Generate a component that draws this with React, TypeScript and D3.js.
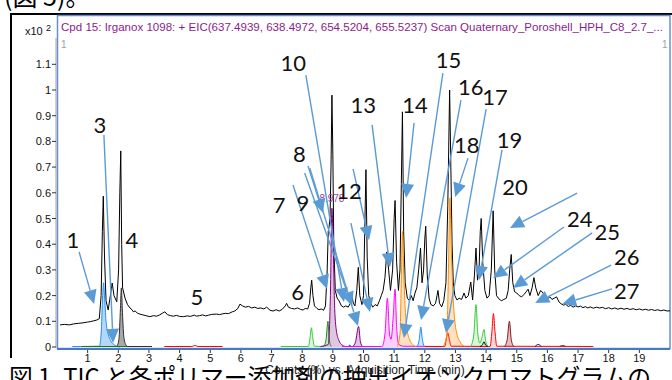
import React from "react";
import * as d3 from "d3";

// ---- data ----
const xTicks = [1, 2, 3, 4, 5, 6, 7, 8, 9, 10, 11, 12, 13, 14, 15, 16, 17, 18, 19];
const yTicks = [0, 0.1, 0.2, 0.3, 0.4, 0.5, 0.6, 0.7, 0.8, 0.9, 1, 1.1];

// TIC (black) : [time (min), counts (x10^2)]
const ticPoints: [number, number][] = [
  [0.1, 0.086], [0.25, 0.088], [0.4, 0.086], [0.55, 0.09], [0.7, 0.092], [0.85, 0.094],
  [1.0, 0.097], [1.1, 0.099], [1.2, 0.102], [1.3, 0.105], [1.38, 0.11], [1.44, 0.2],
  [1.48, 0.45], [1.51, 0.587], [1.55, 0.35], [1.6, 0.18], [1.67, 0.144], [1.74, 0.2],
  [1.8, 0.249], [1.86, 0.2], [1.95, 0.176], [2.01, 0.3], [2.05, 0.6], [2.08, 0.763],
  [2.11, 0.4], [2.14, 0.23], [2.18, 0.21], [2.22, 0.19], [2.3, 0.165], [2.38, 0.152],
  [2.45, 0.145], [2.49, 0.137], [2.55, 0.14], [2.62, 0.132], [2.7, 0.128], [2.8, 0.125],
  [2.9, 0.122], [3.03, 0.118], [3.15, 0.122], [3.25, 0.12], [3.35, 0.125], [3.45, 0.132],
  [3.52, 0.137], [3.6, 0.126], [3.7, 0.122], [3.8, 0.12], [3.9, 0.123], [4.0, 0.119],
  [4.12, 0.118], [4.25, 0.121], [4.35, 0.119], [4.48, 0.124], [4.55, 0.12], [4.65, 0.122],
  [4.75, 0.125], [4.85, 0.121], [4.95, 0.124], [5.05, 0.127], [5.21, 0.128], [5.3, 0.126],
  [5.4, 0.129], [5.5, 0.131], [5.6, 0.13], [5.72, 0.137], [5.8, 0.14], [5.9, 0.15],
  [5.97, 0.167], [6.05, 0.16], [6.15, 0.155], [6.25, 0.158], [6.35, 0.152], [6.45, 0.155],
  [6.55, 0.15], [6.65, 0.152], [6.75, 0.148], [6.84, 0.155], [6.95, 0.143], [7.05, 0.14],
  [7.15, 0.145], [7.25, 0.14], [7.35, 0.147], [7.45, 0.16], [7.49, 0.17], [7.55, 0.155],
  [7.65, 0.15], [7.75, 0.148], [7.85, 0.152], [7.95, 0.146], [8.03, 0.144], [8.1, 0.15],
  [8.18, 0.148], [8.24, 0.17], [8.28, 0.23], [8.31, 0.26], [8.35, 0.2], [8.4, 0.16],
  [8.48, 0.15], [8.55, 0.145], [8.62, 0.148], [8.7, 0.143], [8.76, 0.16], [8.81, 0.28],
  [8.85, 0.45], [8.88, 0.47], [8.91, 0.51], [8.94, 0.7], [8.97, 0.98], [9.0, 0.75],
  [9.03, 0.4], [9.08, 0.22], [9.14, 0.19], [9.2, 0.18], [9.28, 0.16], [9.35, 0.155],
  [9.42, 0.16], [9.5, 0.155], [9.57, 0.17], [9.62, 0.2], [9.67, 0.17], [9.72, 0.16],
  [9.78, 0.22], [9.83, 0.31], [9.88, 0.2], [9.95, 0.165], [10.0, 0.2], [10.04, 0.45],
  [10.08, 0.69], [10.12, 0.35], [10.17, 0.2], [10.24, 0.17], [10.3, 0.155], [10.38, 0.165],
  [10.45, 0.16], [10.52, 0.18], [10.58, 0.2], [10.64, 0.22], [10.7, 0.27], [10.76, 0.37],
  [10.82, 0.3], [10.88, 0.22], [10.95, 0.3], [11.0, 0.5], [11.03, 0.57], [11.08, 0.33],
  [11.14, 0.22], [11.19, 0.3], [11.23, 0.6], [11.27, 0.915], [11.31, 0.45], [11.36, 0.25],
  [11.43, 0.19], [11.5, 0.18], [11.56, 0.2], [11.62, 0.18], [11.68, 0.21], [11.74, 0.23],
  [11.8, 0.3], [11.86, 0.385], [11.91, 0.25], [11.96, 0.3], [12.0, 0.42], [12.03, 0.47],
  [12.08, 0.28], [12.14, 0.19], [12.2, 0.165], [12.28, 0.16], [12.35, 0.17], [12.4, 0.2],
  [12.43, 0.22], [12.48, 0.17], [12.55, 0.156], [12.62, 0.18], [12.69, 0.25], [12.75, 0.55],
  [12.81, 1.0], [12.85, 0.7], [12.89, 0.4], [12.93, 0.25], [12.98, 0.2], [13.05, 0.183],
  [13.12, 0.19], [13.2, 0.185], [13.28, 0.21], [13.34, 0.19], [13.42, 0.2], [13.5, 0.253],
  [13.56, 0.183], [13.62, 0.28], [13.67, 0.385], [13.72, 0.26], [13.77, 0.3], [13.81, 0.45],
  [13.84, 0.5], [13.89, 0.33], [13.96, 0.22], [14.03, 0.19], [14.1, 0.2], [14.17, 0.3],
  [14.23, 0.53], [14.28, 0.3], [14.34, 0.2], [14.42, 0.187], [14.5, 0.18], [14.58, 0.185],
  [14.66, 0.19], [14.72, 0.22], [14.77, 0.3], [14.82, 0.36], [14.87, 0.25], [14.93, 0.215],
  [15.0, 0.21], [15.08, 0.2], [15.16, 0.195], [15.24, 0.205], [15.31, 0.215], [15.37, 0.225],
  [15.43, 0.2], [15.5, 0.23], [15.56, 0.27], [15.62, 0.23], [15.7, 0.2], [15.78, 0.22],
  [15.86, 0.21], [15.93, 0.195], [16.0, 0.187], [16.08, 0.195], [16.15, 0.185], [16.22, 0.19],
  [16.3, 0.195], [16.38, 0.175], [16.45, 0.168], [16.52, 0.163], [16.6, 0.166], [16.68, 0.158],
  [16.76, 0.162], [16.84, 0.155], [16.92, 0.16], [17.0, 0.156], [17.08, 0.159], [17.16, 0.153],
  [17.24, 0.157], [17.32, 0.152], [17.4, 0.156], [17.5, 0.151], [17.6, 0.155], [17.7, 0.152],
  [17.8, 0.154], [17.9, 0.149], [18.0, 0.153], [18.1, 0.148], [18.2, 0.152], [18.3, 0.147],
  [18.4, 0.151], [18.5, 0.147], [18.6, 0.15], [18.7, 0.146], [18.8, 0.149], [18.9, 0.145],
  [19.0, 0.148], [19.1, 0.144], [19.2, 0.147], [19.3, 0.143], [19.4, 0.146], [19.5, 0.142],
  [19.6, 0.145], [19.7, 0.141], [19.8, 0.144], [19.9, 0.14], [20.0, 0.141],
];

// extracted ion chromatograms
const eicBlueLow: [number, number][] = [
  [0.5, 0.002], [0.8, 0.002], [1.38, 0.003], [1.44, 0.05], [1.49, 0.2], [1.52, 0.25],
  [1.55, 0.2], [1.6, 0.1], [1.67, 0.05], [1.75, 0.025], [1.85, 0.01], [1.95, 0.003], [2.05, 0.0],
];
const eicGreenEarly: [number, number][] = [[0.8, 0.002], [2.8, 0.002]];
const eicGray: [number, number][] = [
  [1.95, 0.002], [2.02, 0.03], [2.07, 0.15], [2.1, 0.23], [2.13, 0.15], [2.18, 0.04],
  [2.24, 0.01], [2.3, 0.002], [3.1, 0.002],
];
const eicRedEarly: [number, number][] = [[3.5, 0.002], [4.4, 0.002], [4.5, 0.006], [4.6, 0.002], [5.4, 0.002]];
const eicGreen8: [number, number][] = [
  [7.3, 0.002], [8.2, 0.002], [8.26, 0.04], [8.3, 0.075], [8.34, 0.04], [8.4, 0.003], [8.7, 0.002],
];
const eicDarkGreen: [number, number][] = [[8.7, 0.002], [8.78, 0.03], [8.84, 0.1], [8.88, 0.03], [8.95, 0.002]];
const eicPurple: [number, number][] = [
  [8.6, 0.002], [8.85, 0.01], [8.92, 0.2], [8.97, 0.54], [9.01, 0.4], [9.06, 0.15],
  [9.12, 0.06], [9.2, 0.025], [9.3, 0.008], [9.4, 0.002],
];
const eicNavy9: [number, number][] = [[9.4, 0.002], [9.5, 0.002], [9.55, 0.007], [9.6, 0.002], [9.7, 0.002]];
const eicPurple2: [number, number][] = [[9.65, 0.002], [9.74, 0.02], [9.84, 0.08], [9.9, 0.02], [9.97, 0.002]];
const eicMagenta: [number, number][] = [
  [9.3, 0.002], [10.6, 0.002], [10.7, 0.05], [10.78, 0.19], [10.85, 0.05], [10.9, 0.03],
  [10.97, 0.12], [11.03, 0.225], [11.08, 0.08], [11.15, 0.01], [11.3, 0.003], [12.5, 0.002],
];
const eicOrange1: [number, number][] = [
  [11.1, 0.002], [11.19, 0.05], [11.24, 0.3], [11.27, 0.45], [11.31, 0.3], [11.36, 0.15],
  [11.42, 0.07], [11.5, 0.03], [11.6, 0.01], [11.7, 0.002],
];
const eicBlue12: [number, number][] = [[11.75, 0.002], [11.82, 0.03], [11.87, 0.078], [11.92, 0.03], [11.98, 0.002]];
const eicRed: [number, number][] = [
  [12.0, 0.002], [12.65, 0.002], [12.7, 0.03], [12.75, 0.055], [12.8, 0.03], [12.86, 0.003],
  [14.13, 0.002], [14.19, 0.06], [14.24, 0.13], [14.29, 0.06], [14.35, 0.003], [17.5, 0.002],
];
const eicOrange2: [number, number][] = [
  [12.6, 0.002], [12.72, 0.05], [12.78, 0.35], [12.82, 0.58], [12.86, 0.4], [12.92, 0.2],
  [12.98, 0.1], [13.05, 0.05], [13.15, 0.02], [13.3, 0.003],
];
const eicGreen14: [number, number][] = [
  [13.5, 0.002], [13.6, 0.05], [13.67, 0.165], [13.73, 0.05], [13.8, 0.015], [13.87, 0.04],
  [13.93, 0.068], [13.99, 0.02], [14.07, 0.002],
];
const eicBlack14: [number, number][] = [[13.8, 0.002], [13.88, 0.008], [13.93, 0.02], [13.98, 0.008], [14.05, 0.002]];
const eicBrown: [number, number][] = [[14.6, 0.002], [14.69, 0.03], [14.76, 0.1], [14.82, 0.03], [14.9, 0.002]];
const eicNavy15: [number, number][] = [[15.6, 0.002], [15.7, 0.01], [15.8, 0.002]];
const eicBrown16: [number, number][] = [[16.4, 0.002], [16.5, 0.006], [16.6, 0.002]];

// annotation numbers: centre of each number, in (time, counts)
const labelText = ["1", "3", "4", "5", "6", "7", "8", "9", "10", "12", "13", "14", "15", "16", "17", "18", "19", "20", "24", "25", "26", "27"];
const labelTime = [0.52, 1.4, 2.44, 4.56, 7.85, 7.25, 7.91, 8.02, 7.71, 9.53, 9.99, 11.68, 12.77, 13.5, 14.29, 13.37, 14.76, 14.94, 17.06, 17.95, 18.59, 18.59];
const labelCounts = [0.416, 0.864, 0.416, 0.196, 0.214, 0.553, 0.751, 0.559, 1.104, 0.608, 0.942, 0.942, 1.117, 1.011, 0.972, 0.786, 0.805, 0.624, 0.497, 0.449, 0.351, 0.219];

// annotation arrows: tail -> head, in (time, counts)
const arrowFrom: [number, number][] = [
  [0.72, 0.37], [1.53, 0.825], [7.7, 0.63], [8.19, 0.704], [8.08, 0.677], [8.25, 0.696],
  [8.12, 1.058], [9.66, 0.693], [9.59, 0.482], [10.28, 0.864], [11.65, 0.872], [12.59, 1.066],
  [13.18, 0.961], [14.0, 0.926], [13.41, 0.735], [14.52, 0.767], [16.97, 0.599], [16.54, 0.467],
  [17.46, 0.444], [18.08, 0.319], [18.11, 0.226],
];
const arrowTo: [number, number][] = [
  [1.21, 0.167], [1.83, 0.016], [8.81, 0.226], [8.68, 0.521], [9.63, 0.16], [9.82, 0.082],
  [9.36, 0.175], [10.18, 0.416], [10.21, 0.136], [10.86, 0.311], [11.39, 0.58], [11.32, 0.035],
  [11.88, 0.105], [12.69, 0.054], [12.99, 0.584], [13.77, 0.261], [14.78, 0.463], [14.23, 0.268],
  [14.88, 0.23], [15.6, 0.171], [16.48, 0.167],
];

const titleText =
  "Cpd 15: Irganox 1098: + EIC(637.4939, 638.4972, 654.5204, 655.5237) Scan Quaternary_Poroshell_HPH_C8_2.7_...";

// ---- layout ----
const x = d3.scaleLinear().domain([0, 20]).range([57, 670]);
const y = d3.scaleLinear().domain([0, 1]).range([347, 90]);

const eicTraces = [
  { pts: eicBlueLow, stroke: "#1e90ff", fill: "#a9d1f7" },
  { pts: eicGreenEarly, stroke: "#108010", fill: null },
  { pts: eicGray, stroke: "#303030", fill: "#9a9a9a" },
  { pts: eicRedEarly, stroke: "#ff0000", fill: null },
  { pts: eicGreen8, stroke: "#33cc33", fill: "#d4f4d4" },
  { pts: eicDarkGreen, stroke: "#1a8a1a", fill: "#bfe3bf" },
  { pts: eicPurple, stroke: "#800080", fill: "#dcbcdc" },
  { pts: eicNavy9, stroke: "#0000b0", fill: null },
  { pts: eicPurple2, stroke: "#800080", fill: "#dcbcdc" },
  { pts: eicMagenta, stroke: "#ff00ff", fill: "#ffc4ff" },
  { pts: eicOrange1, stroke: "#ff8c00", fill: "#ffdcb4" },
  { pts: eicBlue12, stroke: "#1e90ff", fill: "#c4e2ff" },
  { pts: eicRed, stroke: "#ff0000", fill: "#ffd0d0" },
  { pts: eicOrange2, stroke: "#ff8c00", fill: "#ffdcb4" },
  { pts: eicGreen14, stroke: "#33cc33", fill: "#d4f4d4" },
  { pts: eicBlack14, stroke: "#000000", fill: null },
  { pts: eicBrown, stroke: "#8b1a1a", fill: "#dbb4b4" },
  { pts: eicNavy15, stroke: "#0000b0", fill: null },
  { pts: eicBrown16, stroke: "#8b1a1a", fill: null },
];

const arrowColor = "#5b9bd5";

function Arrow({ from, to }: { from: [number, number]; to: [number, number] }) {
  const x1 = x(from[0]), y1 = y(from[1]);
  const x2 = x(to[0]), y2 = y(to[1]);
  const len = Math.hypot(x2 - x1, y2 - y1);
  const ux = (x2 - x1) / len, uy = (y2 - y1) / len;
  const hl = 14, hw = 6.5;
  const bx = x2 - ux * hl, by = y2 - uy * hl;
  const head = `${x2},${y2} ${bx - uy * hw},${by + ux * hw} ${bx + uy * hw},${by - ux * hw}`;
  return (
    <g>
      <line x1={x1} y1={y1} x2={bx} y2={by} stroke={arrowColor} strokeWidth={1.4} />
      <polygon points={head} fill={arrowColor} />
    </g>
  );
}

export default function App() {
  const ticLine = d3.line<[number, number]>().x((d) => x(d[0])).y((d) => y(d[1]));
  const peakLine = d3
    .line<[number, number]>()
    .curve(d3.curveMonotoneX)
    .x((d) => x(d[0]))
    .y((d) => y(d[1]));
  const peakArea = d3
    .area<[number, number]>()
    .curve(d3.curveMonotoneX)
    .x((d) => x(d[0]))
    .y0(y(0))
    .y1((d) => y(d[1]));

  const sans = "'Liberation Sans', Arial, sans-serif";
  const jp = "'Noto Sans CJK JP', sans-serif";

  return (
    <svg
      width={672}
      height={380}
      style={{ position: "absolute", left: 0, top: 0, background: "#fff" }}
    >
      <defs>
        <clipPath id="plotClip">
          <rect x={57} y={36} width={613} height={312} />
        </clipPath>
      </defs>

      {/* text of the page above */}
      <text x={4} y={6} fontFamily={jp} fontSize={25} fill="#000">(図 5)。</text>

      {/* outer figure frame */}
      <line x1={11} y1={14} x2={672} y2={14} stroke="#000" strokeWidth={2} />
      <line x1={11} y1={13} x2={11} y2={358} stroke="#000" strokeWidth={2} />

      {/* plot frame */}
      <rect x={57.5} y={15.5} width={612.5} height={333} fill="#fff" stroke="#6a8fd0" strokeWidth={1.5} />
      <line x1={57} y1={349} x2={670} y2={349} stroke="#4a78c8" strokeWidth={2} />
      <line x1={56} y1={38} x2={56} y2={348} stroke="#a0a0a0" strokeWidth={1} />

      <text x={25} y={35} fontFamily={sans} fontSize={11} fill="#111">x10</text>
      <text x={46} y={31} fontFamily={sans} fontSize={9} fill="#111">2</text>

      <text x={61} y={31} fontFamily={sans} fontSize={11} fill="#8b1c8b" textLength={602} lengthAdjust="spacingAndGlyphs">
        {titleText}
      </text>
      <text x={61} y={48} fontFamily={sans} fontSize={10} fill="#a0a0a0">1</text>
      <text x={662} y={48} fontFamily={sans} fontSize={10} fill="#a0a0a0">1</text>

      {/* y axis */}
      {yTicks.map((t) => (
        <g key={t}>
          <line x1={52} x2={56} y1={y(t)} y2={y(t)} stroke="#333" />
          <text x={51} y={y(t) + 4} textAnchor="end" fontFamily={sans} fontSize={11} fill="#111">
            {t}
          </text>
        </g>
      ))}

      {/* x axis */}
      {xTicks.map((t) => (
        <g key={t}>
          <line x1={x(t)} x2={x(t)} y1={350} y2={353} stroke="#333" />
          <text x={x(t)} y={362} textAnchor="middle" fontFamily={sans} fontSize={11} fill="#111">
            {t}
          </text>
        </g>
      ))}

      {/* traces */}
      <g clipPath="url(#plotClip)">
        {eicTraces.map((tr, i) =>
          tr.fill ? <path key={"f" + i} d={peakArea(tr.pts) || ""} fill={tr.fill} opacity={0.85} /> : null
        )}
        <path d={ticLine(ticPoints) || ""} fill="none" stroke="#000" strokeWidth={1} />
        {eicTraces.map((tr, i) => (
          <path key={"s" + i} d={peakLine(tr.pts) || ""} fill="none" stroke={tr.stroke} strokeWidth={1} />
        ))}
      </g>

      <text x={x(8.97)} y={y(0.565)} textAnchor="middle" fontFamily={sans} fontSize={10} fill="#a040a0">
        8.978
      </text>

      {/* annotations */}
      {arrowFrom.map((f, i) => (
        <Arrow key={i} from={f} to={arrowTo[i]} />
      ))}
      {labelText.map((s, i) => (
        <text
          key={s}
          x={x(labelTime[i])}
          y={y(labelCounts[i]) + 8}
          textAnchor="middle"
          fontFamily="Lato, 'Noto Sans', sans-serif"
          fontSize={22}
          fill="#111"
        >
          {s}
        </text>
      ))}

      {/* caption below */}
      <text x={9} y={387} fontFamily={jp} fontSize={25} fill="#000" textLength={642} lengthAdjust="spacingAndGlyphs">
        図 1. TIC と各ポリマー添加剤の抽出イオンクロマトグラムの
      </text>
      <text x={365} y={374} textAnchor="middle" fontFamily={sans} fontSize={12} fill="#222">
        Counts (%) vs. Acquisition Time (min)
      </text>
    </svg>
  );
}
